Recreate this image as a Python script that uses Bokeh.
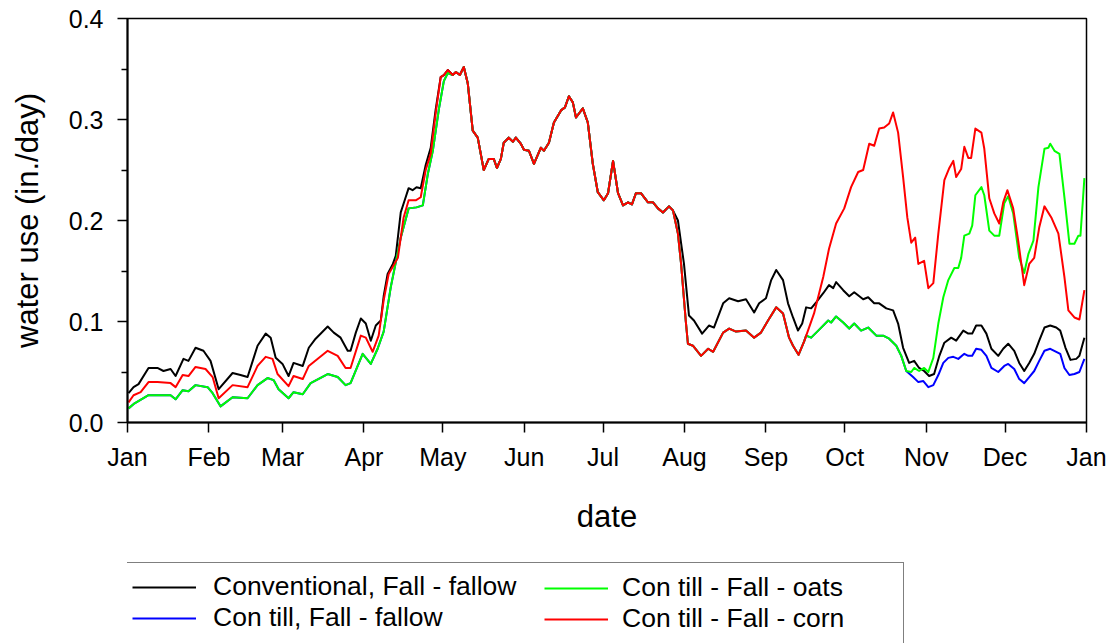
from bokeh.plotting import figure
from bokeh.layouts import column
from bokeh.models import FixedTicker, Legend, LegendItem, PrintfTickFormatter
from bokeh.embed import file_html
from bokeh.resources import INLINE

# ---------------- data (day of year, water use in./day) ----------------
month_days = [0, 31, 59, 90, 120, 151, 181, 212, 243, 273, 304, 334, 365]
month_labels = ["Jan", "Feb", "Mar", "Apr", "May", "Jun", "Jul", "Aug",
                "Sep", "Oct", "Nov", "Dec", "Jan"]
y_ticks = [0.0, 0.1, 0.2, 0.3, 0.4]
y_minor = [0.05, 0.15, 0.25, 0.35]

series_names = ["Conventional, Fall - fallow", "Con till, Fall - fallow",
                "Con till - Fall - oats", "Con till - Fall - corn"]

black_spring = [(0.4, 0.029), (2.3, 0.035), (4.2, 0.038), (8.0, 0.054), (11.4, 0.054),
                (13.7, 0.051), (16.4, 0.053), (18.3, 0.046), (21.3, 0.063), (23.2, 0.061),
                (25.9, 0.074), (28.9, 0.071), (31.6, 0.061), (34.7, 0.033), (40.0, 0.049),
                (43.0, 0.047), (45.7, 0.045), (49.5, 0.076), (52.6, 0.088), (54.5, 0.084),
                (56.4, 0.064), (59.0, 0.058), (61.3, 0.046), (63.2, 0.059), (66.7, 0.056),
                (69.0, 0.074), (71.6, 0.083), (76.2, 0.095), (78.5, 0.089), (81.1, 0.084),
                (83.8, 0.071), (84.9, 0.071), (86.9, 0.089), (88.8, 0.103), (90.7, 0.098),
                (92.6, 0.081), (94.5, 0.096), (96.4, 0.101), (97.5, 0.125), (99.0, 0.147),
                (101.0, 0.157), (102.1, 0.165), (104.0, 0.208), (105.5, 0.220), (107.0, 0.232),
                (108.5, 0.230), (110.0, 0.233), (111.6, 0.232), (113.5, 0.255), (115.4, 0.272),
                (117.3, 0.310)]

red_spring = [(0.4, 0.020), (2.3, 0.027), (5.0, 0.030), (8.0, 0.040), (11.4, 0.040),
              (16.4, 0.039), (18.3, 0.035), (21.0, 0.047), (23.2, 0.046), (25.9, 0.055),
              (29.7, 0.053), (32.4, 0.045), (34.7, 0.024), (40.0, 0.037), (45.7, 0.035),
              (49.5, 0.056), (52.6, 0.065), (55.2, 0.063), (57.1, 0.048), (61.3, 0.036),
              (63.2, 0.046), (66.7, 0.043), (69.0, 0.056), (76.2, 0.071), (80.0, 0.066),
              (83.0, 0.054), (84.9, 0.054), (88.8, 0.086), (90.7, 0.084), (93.3, 0.070),
              (95.6, 0.086), (97.5, 0.121), (99.4, 0.147), (102.9, 0.163), (105.1, 0.203),
              (107.0, 0.220), (109.7, 0.220), (111.6, 0.223), (113.5, 0.250), (115.4, 0.266),
              (117.3, 0.306)]

green_spring = [(0.4, 0.014), (2.7, 0.019), (8.0, 0.027), (16.4, 0.027), (18.3, 0.023),
                (21.0, 0.032), (23.2, 0.031), (25.9, 0.037), (30.5, 0.035), (32.4, 0.029),
                (35.4, 0.016), (40.0, 0.025), (45.7, 0.024), (49.5, 0.037), (53.3, 0.044),
                (55.6, 0.042), (57.5, 0.033), (61.3, 0.024), (63.2, 0.030), (66.7, 0.028),
                (69.7, 0.039), (76.2, 0.048), (80.0, 0.045), (83.0, 0.037), (84.9, 0.039),
                (89.5, 0.068), (92.6, 0.058), (95.2, 0.073), (97.5, 0.090), (100.2, 0.134),
                (104.0, 0.183), (107.0, 0.212), (110.0, 0.213), (112.4, 0.215), (114.3, 0.246),
                (116.2, 0.269), (118.5, 0.310), (120.4, 0.338), (121.9, 0.346)]

# common to all treatments in late spring / summer
summer = [(119.2, 0.342), (120.4, 0.344), (121.9, 0.349), (123.8, 0.344), (125.0, 0.347),
          (126.5, 0.344), (128.0, 0.352), (129.5, 0.336), (131.4, 0.289), (133.3, 0.282),
          (135.6, 0.250), (137.5, 0.261), (139.4, 0.261), (140.6, 0.252), (142.1, 0.261),
          (143.2, 0.277), (145.1, 0.282), (146.7, 0.278), (147.8, 0.282), (149.7, 0.276),
          (150.9, 0.270), (152.8, 0.269), (154.7, 0.256), (157.3, 0.272), (158.5, 0.269),
          (160.4, 0.277), (162.3, 0.297), (165.0, 0.309), (166.5, 0.312), (168.0, 0.323),
          (169.5, 0.317), (170.7, 0.302), (173.3, 0.311), (175.2, 0.297), (177.1, 0.256),
          (179.0, 0.228), (181.3, 0.220), (182.9, 0.227), (184.8, 0.259), (186.7, 0.227),
          (188.6, 0.215), (190.5, 0.218), (192.0, 0.216), (193.5, 0.227), (195.4, 0.227),
          (198.1, 0.218), (200.0, 0.218), (201.9, 0.212), (203.8, 0.208), (206.1, 0.214),
          (207.6, 0.210)]

# common to the con-till treatments, August to mid September
contill_aug = [(209.5, 0.187), (210.7, 0.157), (212.5, 0.100), (213.3, 0.078), (215.2, 0.076),
               (218.3, 0.066), (221.0, 0.073), (222.9, 0.070), (226.7, 0.089), (229.0, 0.093),
               (231.6, 0.090), (235.4, 0.091), (238.5, 0.084), (241.1, 0.089), (243.8, 0.101),
               (246.9, 0.114), (249.5, 0.108), (251.8, 0.084), (253.3, 0.076), (255.4, 0.067),
               (257.5, 0.080)]

black_fall = [(209.5, 0.200), (211.8, 0.157), (213.7, 0.106), (215.6, 0.101), (218.7, 0.088),
              (221.3, 0.096), (223.2, 0.094), (226.7, 0.118), (229.0, 0.123), (232.4, 0.120),
              (235.4, 0.122), (238.5, 0.109), (240.4, 0.118), (243.0, 0.123), (245.0, 0.141),
              (246.9, 0.151), (249.5, 0.141), (251.4, 0.118), (253.3, 0.104), (255.2, 0.091),
              (256.8, 0.098), (258.3, 0.114), (260.2, 0.113), (262.1, 0.119), (264.8, 0.128),
              (267.0, 0.136), (268.6, 0.133), (269.7, 0.139), (272.4, 0.131), (274.7, 0.125),
              (276.6, 0.129), (280.0, 0.122), (281.9, 0.124), (284.2, 0.118), (286.1, 0.118),
              (288.8, 0.113), (291.4, 0.111), (293.3, 0.098), (295.2, 0.074), (297.5, 0.059),
              (299.4, 0.061), (301.3, 0.054), (303.2, 0.051), (305.1, 0.046), (307.0, 0.048),
              (309.0, 0.066), (310.9, 0.079), (313.5, 0.084), (315.4, 0.081), (318.1, 0.091),
              (320.0, 0.088), (321.5, 0.088), (323.0, 0.096), (325.0, 0.096), (326.9, 0.088),
              (328.8, 0.073), (331.4, 0.066), (333.3, 0.073), (335.2, 0.078), (337.5, 0.071),
              (339.4, 0.059), (341.3, 0.051), (343.2, 0.059), (345.1, 0.068), (347.0, 0.081),
              (349.0, 0.094), (351.2, 0.096), (353.5, 0.094), (355.0, 0.091), (357.0, 0.074),
              (358.9, 0.062), (361.1, 0.063), (362.3, 0.066), (364.2, 0.084)]

red_fall = [(259.4, 0.094), (261.3, 0.108), (264.8, 0.144), (267.0, 0.172), (269.7, 0.197),
            (272.8, 0.212), (275.4, 0.233), (278.1, 0.248), (280.0, 0.250), (282.3, 0.276),
            (284.2, 0.274), (286.1, 0.291), (288.0, 0.292), (289.9, 0.296), (291.4, 0.307),
            (293.3, 0.287), (295.2, 0.243), (296.8, 0.203), (298.3, 0.178), (299.8, 0.183),
            (301.0, 0.157), (303.2, 0.160), (304.8, 0.133), (306.7, 0.138), (308.6, 0.187),
            (310.9, 0.240), (312.8, 0.252), (314.3, 0.259), (315.4, 0.243), (317.3, 0.251),
            (318.5, 0.273), (320.0, 0.262), (321.1, 0.262), (322.7, 0.291), (325.0, 0.287),
            (326.1, 0.271), (328.0, 0.222), (329.9, 0.207), (331.8, 0.197), (333.3, 0.218),
            (334.9, 0.230), (337.1, 0.212), (339.0, 0.180), (341.3, 0.136), (343.2, 0.157),
            (345.1, 0.163), (347.0, 0.193), (349.0, 0.214), (351.6, 0.203), (354.3, 0.187),
            (356.6, 0.144), (358.1, 0.111), (360.4, 0.104), (362.3, 0.102), (364.2, 0.131)]

green_fall = [(258.3, 0.086), (260.2, 0.084), (262.9, 0.091), (266.7, 0.101), (267.8, 0.099),
              (269.7, 0.105), (272.4, 0.099), (274.7, 0.093), (276.6, 0.098), (279.2, 0.091),
              (281.9, 0.094), (285.0, 0.086), (287.6, 0.086), (289.9, 0.083), (292.6, 0.076),
              (294.5, 0.066), (296.4, 0.051), (298.3, 0.050), (299.4, 0.054), (301.3, 0.051),
              (303.2, 0.054), (304.8, 0.050), (306.7, 0.064), (308.6, 0.098), (310.5, 0.124),
              (312.4, 0.141), (314.7, 0.153), (316.2, 0.153), (317.3, 0.163), (318.5, 0.185),
              (320.4, 0.187), (321.5, 0.195), (322.7, 0.225), (325.0, 0.233), (326.1, 0.225),
              (328.0, 0.190), (329.9, 0.185), (331.8, 0.185), (333.7, 0.217), (335.2, 0.224),
              (337.1, 0.207), (339.4, 0.163), (341.3, 0.148), (342.9, 0.167), (344.8, 0.180),
              (346.7, 0.233), (349.0, 0.271), (350.5, 0.272), (351.2, 0.276), (352.8, 0.269),
              (354.7, 0.266), (356.6, 0.223), (358.5, 0.177), (360.4, 0.177), (361.9, 0.185),
              (362.7, 0.185), (364.2, 0.242)]

blue_fall = [(296.4, 0.051), (299.0, 0.045), (301.0, 0.040), (302.9, 0.041), (304.8, 0.035),
             (306.7, 0.037), (308.6, 0.047), (310.5, 0.059), (312.4, 0.064), (314.3, 0.065),
             (316.2, 0.063), (318.5, 0.068), (320.0, 0.066), (321.5, 0.066), (323.0, 0.073),
             (325.0, 0.072), (326.9, 0.066), (328.8, 0.054), (331.4, 0.050), (333.7, 0.056),
             (335.2, 0.058), (337.5, 0.053), (339.4, 0.043), (341.3, 0.039), (343.2, 0.045),
             (345.1, 0.051), (347.0, 0.061), (349.0, 0.071), (351.2, 0.073), (353.5, 0.070),
             (355.0, 0.068), (356.6, 0.054), (358.5, 0.047), (360.4, 0.048), (362.3, 0.050),
             (364.2, 0.063)]

# ---------------- assemble series ----------------
black = black_spring + summer + black_fall
red = red_spring + summer + contill_aug + red_fall
green = green_spring + [pt for pt in summer if pt[0] > green_spring[-1][0]] + contill_aug + green_fall
blue = [pt for pt in green if pt[0] < blue_fall[0][0]] + blue_fall
all_series = [black, blue, green, red]

colors = ["#000000", "#0000ff", "#00ff00", "#ff0000"]
FONT = "Liberation Sans"

p = figure(width=1110, height=550, x_range=(0, 365), y_range=(0, 0.4),
           output_backend="svg", toolbar_location=None,
           min_border_left=127, min_border_right=24, min_border_top=18,
           min_border_bottom=128)
p.xgrid.visible = False
p.ygrid.visible = False
p.outline_line_color = "black"
p.outline_line_width = 1.5

for pts, col in zip(all_series, colors):
    p.line([d for d, _ in pts], [v for _, v in pts], line_color=col,
           line_width=2, line_join="round")

# axes
p.xaxis.ticker = FixedTicker(ticks=month_days)
p.xaxis.major_label_overrides = {d: lab for d, lab in zip(month_days, month_labels)}
p.yaxis.ticker = FixedTicker(ticks=y_ticks, minor_ticks=y_minor)
p.yaxis.formatter = PrintfTickFormatter(format="%.1f")
p.xaxis.axis_label = "date"
p.yaxis.axis_label = "water use (in./day)"
for ax in (p.xaxis, p.yaxis):
    ax.axis_line_width = 2
    ax.axis_line_color = "black"
    ax.major_tick_in = 0
    ax.major_tick_out = 10
    ax.major_tick_line_width = 1.5
    ax.minor_tick_in = 0
    ax.minor_tick_out = 6
    ax.minor_tick_line_width = 1.5
    ax.major_label_text_font = FONT
    ax.major_label_text_font_size = "25px"
    ax.major_label_text_color = "black"
    ax.axis_label_text_font = FONT
    ax.axis_label_text_font_size = "31px"
    ax.axis_label_text_font_style = "normal"
    ax.axis_label_text_color = "black"
p.xaxis.major_label_standoff = 10
p.yaxis.major_label_standoff = 14
p.xaxis.axis_label_standoff = 25
p.yaxis.axis_label_standoff = 21

# ---------------- legend panel (second figure under the chart) ----------------
# its frame is aligned with the chart frame by the column layout; the key lines
# carry the same data but lie outside this panel's y range, so only the legend shows
lf = figure(width=1110, height=93, x_range=(0, 365), y_range=(1, 2),
            output_backend="svg", toolbar_location=None,
            x_axis_type=None, y_axis_type=None,
            min_border=0, min_border_left=0, min_border_right=0,
            min_border_top=0, min_border_bottom=0)
lf.outline_line_color = None
lf.xgrid.visible = False
lf.ygrid.visible = False
keys = [lf.line([d for d, _ in pts], [v for _, v in pts], line_color=c, line_width=2)
        for pts, c in zip(all_series, colors)]

VY = -32
common = dict(glyph_width=64, glyph_height=30, label_height=30, spacing=0, padding=8,
              label_text_font=FONT, label_text_font_size="26.5px", label_text_color="black",
              title=" ", title_location="below", title_standoff=10,
              title_text_font_size="20px", margin=0)
leg1 = Legend(items=[LegendItem(label=series_names[0], renderers=[keys[0]]),
                     LegendItem(label=series_names[1], renderers=[keys[1]])],
              location=(-4, VY), label_standoff=17, label_width=682,
              border_line_color="black", border_line_width=1.5,
              background_fill_color="white", background_fill_alpha=1.0, **common)
leg2 = Legend(items=[LegendItem(label=series_names[2], renderers=[keys[2]]),
                     LegendItem(label=series_names[3], renderers=[keys[3]])],
              location=(409, VY), label_standoff=14,
              border_line_alpha=0, background_fill_alpha=0, **common)
lf.add_layout(leg1)
lf.add_layout(leg2)

layout = column(p, lf, spacing=0)
open("out.html", "w").write(file_html(layout, INLINE))
